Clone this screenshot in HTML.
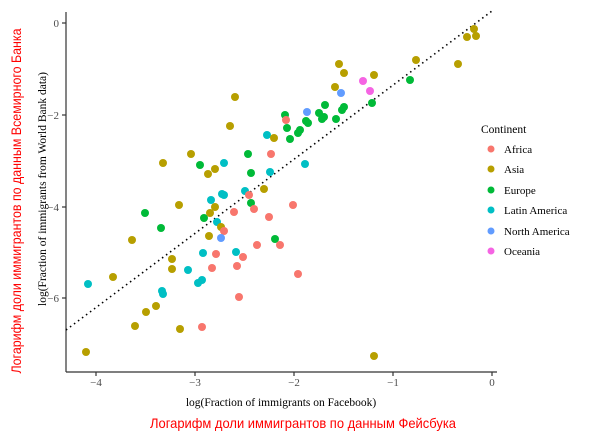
<!DOCTYPE html>
<html><head><meta charset="utf-8"><style>
body{margin:0;background:#fff;}
svg{display:block;}
</style></head><body>
<svg width="600" height="438" xmlns="http://www.w3.org/2000/svg">
<rect width="600" height="438" fill="#fff"/>
<line x1="66" y1="12" x2="66" y2="372" stroke="#333" stroke-width="1.2"/>
<line x1="66" y1="372" x2="497" y2="372" stroke="#333" stroke-width="1.2"/>
<g stroke="#333" stroke-width="1.2">
<line x1="62" y1="23" x2="66" y2="23"/><line x1="62" y1="115" x2="66" y2="115"/>
<line x1="62" y1="207" x2="66" y2="207"/><line x1="62" y1="298" x2="66" y2="298"/>
<line x1="96" y1="372" x2="96" y2="376"/><line x1="195" y1="372" x2="195" y2="376"/>
<line x1="294" y1="372" x2="294" y2="376"/><line x1="393" y1="372" x2="393" y2="376"/>
<line x1="492" y1="372" x2="492" y2="376"/>
</g>
<g font-family="Liberation Serif, serif" font-size="11" fill="#4d4d4d" text-anchor="end">
<text x="59" y="27">0</text><text x="59" y="119">−2</text><text x="59" y="211">−4</text><text x="59" y="302">−6</text>
</g>
<g font-family="Liberation Serif, serif" font-size="11" fill="#4d4d4d" text-anchor="middle">
<text x="96" y="386">−4</text><text x="195" y="386">−3</text><text x="294" y="386">−2</text><text x="393" y="386">−1</text><text x="492" y="386">0</text>
</g>
<text x="281" y="406" font-family="Liberation Serif, serif" font-size="11.5" text-anchor="middle" fill="#000">log(Fraction of immigrants on Facebook)</text>
<text transform="translate(46,189) rotate(-90)" font-family="Liberation Serif, serif" font-size="11.5" text-anchor="middle" fill="#000">log(Fraction of immigrants from World Bank data)</text>
<text x="303" y="428" font-family="Liberation Sans, sans-serif" font-size="14" text-anchor="middle" fill="#f00" textLength="306" lengthAdjust="spacingAndGlyphs">Логарифм доли иммигрантов по данным Фейсбука</text>
<text transform="translate(21,201) rotate(-90)" font-family="Liberation Sans, sans-serif" font-size="14" text-anchor="middle" fill="#f00" textLength="345" lengthAdjust="spacingAndGlyphs">Логарифм доли иммигрантов по данным Всемирного Банка</text>
<line x1="66" y1="330" x2="492" y2="11" stroke="#000" stroke-width="1.6" stroke-dasharray="1.5,3.5"/>
<g>
<circle cx="235" cy="97" r="4" fill="#B79F00"/><circle cx="230" cy="126" r="4" fill="#B79F00"/>
<circle cx="267" cy="135" r="4" fill="#00BFC4"/><circle cx="274" cy="138" r="4" fill="#B79F00"/>
<circle cx="191" cy="154" r="4" fill="#B79F00"/><circle cx="248" cy="154" r="4" fill="#00BA38"/>
<circle cx="271" cy="154" r="4" fill="#F8766D"/><circle cx="163" cy="163" r="4" fill="#B79F00"/>
<circle cx="200" cy="165" r="4" fill="#00BA38"/><circle cx="224" cy="163" r="4" fill="#00BFC4"/>
<circle cx="208" cy="174" r="4" fill="#B79F00"/><circle cx="215" cy="169" r="4" fill="#B79F00"/>
<circle cx="251" cy="173" r="4" fill="#00BA38"/><circle cx="270" cy="172" r="4" fill="#00BFC4"/>
<circle cx="245" cy="191" r="4" fill="#00BFC4"/><circle cx="264" cy="189" r="4" fill="#B79F00"/>
<circle cx="249" cy="195" r="4" fill="#F8766D"/><circle cx="222" cy="194" r="4" fill="#00BFC4"/>
<circle cx="224" cy="195" r="4" fill="#00BFC4"/><circle cx="211" cy="200" r="4" fill="#00BFC4"/>
<circle cx="474" cy="29" r="4" fill="#B79F00"/><circle cx="467" cy="37" r="4" fill="#B79F00"/>
<circle cx="476" cy="36" r="4" fill="#B79F00"/><circle cx="416" cy="60" r="4" fill="#B79F00"/>
<circle cx="458" cy="64" r="4" fill="#B79F00"/><circle cx="339" cy="64" r="4" fill="#B79F00"/>
<circle cx="344" cy="73" r="4" fill="#B79F00"/><circle cx="374" cy="75" r="4" fill="#B79F00"/>
<circle cx="363" cy="81" r="4" fill="#F564E3"/><circle cx="370" cy="91" r="4" fill="#F564E3"/>
<circle cx="410" cy="80" r="4" fill="#00BA38"/><circle cx="335" cy="87" r="4" fill="#B79F00"/>
<circle cx="341" cy="93" r="4" fill="#619CFF"/><circle cx="372" cy="103" r="4" fill="#00BA38"/>
<circle cx="307" cy="112" r="4" fill="#619CFF"/><circle cx="325" cy="105" r="4" fill="#00BA38"/>
<circle cx="344" cy="107" r="4" fill="#00BA38"/><circle cx="342" cy="110" r="4" fill="#00BA38"/>
<circle cx="285" cy="115" r="4" fill="#00BA38"/><circle cx="286" cy="120" r="4" fill="#F8766D"/>
<circle cx="319" cy="113" r="4" fill="#00BA38"/><circle cx="324" cy="117" r="4" fill="#00BA38"/>
<circle cx="322" cy="119" r="4" fill="#00BA38"/><circle cx="306" cy="121" r="4" fill="#00BA38"/>
<circle cx="308" cy="123" r="4" fill="#00BA38"/><circle cx="336" cy="119" r="4" fill="#00BA38"/>
<circle cx="287" cy="128" r="4" fill="#00BA38"/><circle cx="300" cy="130" r="4" fill="#00BA38"/>
<circle cx="298" cy="133" r="4" fill="#00BA38"/><circle cx="290" cy="139" r="4" fill="#00BA38"/>
<circle cx="305" cy="164" r="4" fill="#00BFC4"/>
<circle cx="251" cy="203" r="4" fill="#00BA38"/><circle cx="293" cy="205" r="4" fill="#F8766D"/>
<circle cx="215" cy="207" r="4" fill="#B79F00"/><circle cx="179" cy="205" r="4" fill="#B79F00"/>
<circle cx="145" cy="213" r="4" fill="#00BA38"/><circle cx="204" cy="218" r="4" fill="#00BA38"/>
<circle cx="210" cy="213" r="4" fill="#B79F00"/><circle cx="234" cy="212" r="4" fill="#F8766D"/>
<circle cx="254" cy="209" r="4" fill="#F8766D"/><circle cx="269" cy="217" r="4" fill="#F8766D"/>
<circle cx="217" cy="222" r="4" fill="#00BFC4"/><circle cx="161" cy="228" r="4" fill="#00BA38"/>
<circle cx="221" cy="227" r="4" fill="#B79F00"/><circle cx="224" cy="231" r="4" fill="#F8766D"/>
<circle cx="132" cy="240" r="4" fill="#B79F00"/><circle cx="209" cy="236" r="4" fill="#B79F00"/>
<circle cx="221" cy="238" r="4" fill="#619CFF"/><circle cx="275" cy="239" r="4" fill="#00BA38"/>
<circle cx="257" cy="245" r="4" fill="#F8766D"/><circle cx="280" cy="245" r="4" fill="#F8766D"/>
<circle cx="216" cy="254" r="4" fill="#F8766D"/><circle cx="203" cy="253" r="4" fill="#00BFC4"/>
<circle cx="236" cy="252" r="4" fill="#00BFC4"/><circle cx="243" cy="257" r="4" fill="#F8766D"/>
<circle cx="172" cy="259" r="4" fill="#B79F00"/><circle cx="172" cy="269" r="4" fill="#B79F00"/>
<circle cx="212" cy="268" r="4" fill="#F8766D"/><circle cx="237" cy="266" r="4" fill="#F8766D"/>
<circle cx="188" cy="270" r="4" fill="#00BFC4"/><circle cx="298" cy="274" r="4" fill="#F8766D"/>
<circle cx="113" cy="277" r="4" fill="#B79F00"/><circle cx="88" cy="284" r="4" fill="#00BFC4"/>
<circle cx="202" cy="280" r="4" fill="#00BFC4"/><circle cx="198" cy="283" r="4" fill="#00BFC4"/>
<circle cx="162" cy="291" r="4" fill="#00BFC4"/><circle cx="163" cy="294" r="4" fill="#00BFC4"/>
<circle cx="239" cy="297" r="4" fill="#F8766D"/><circle cx="156" cy="306" r="4" fill="#B79F00"/>
<circle cx="146" cy="312" r="4" fill="#B79F00"/><circle cx="135" cy="326" r="4" fill="#B79F00"/>
<circle cx="180" cy="329" r="4" fill="#B79F00"/><circle cx="202" cy="327" r="4" fill="#F8766D"/>
<circle cx="86" cy="352" r="4" fill="#B79F00"/><circle cx="374" cy="356" r="4" fill="#B79F00"/>
</g>
<text x="481" y="133" font-family="Liberation Serif, serif" font-size="11.5" fill="#000">Continent</text>
<g font-family="Liberation Serif, serif" font-size="11" fill="#000">
<circle cx="491" cy="149" r="3.5" fill="#F8766D"/><text x="504" y="153">Africa</text>
<circle cx="491" cy="169" r="3.5" fill="#B79F00"/><text x="504" y="173">Asia</text>
<circle cx="491" cy="190" r="3.5" fill="#00BA38"/><text x="504" y="194">Europe</text>
<circle cx="491" cy="210" r="3.5" fill="#00BFC4"/><text x="504" y="214">Latin America</text>
<circle cx="491" cy="231" r="3.5" fill="#619CFF"/><text x="504" y="235">North America</text>
<circle cx="491" cy="251" r="3.5" fill="#F564E3"/><text x="504" y="255">Oceania</text>
</g>
</svg>
</body></html>
